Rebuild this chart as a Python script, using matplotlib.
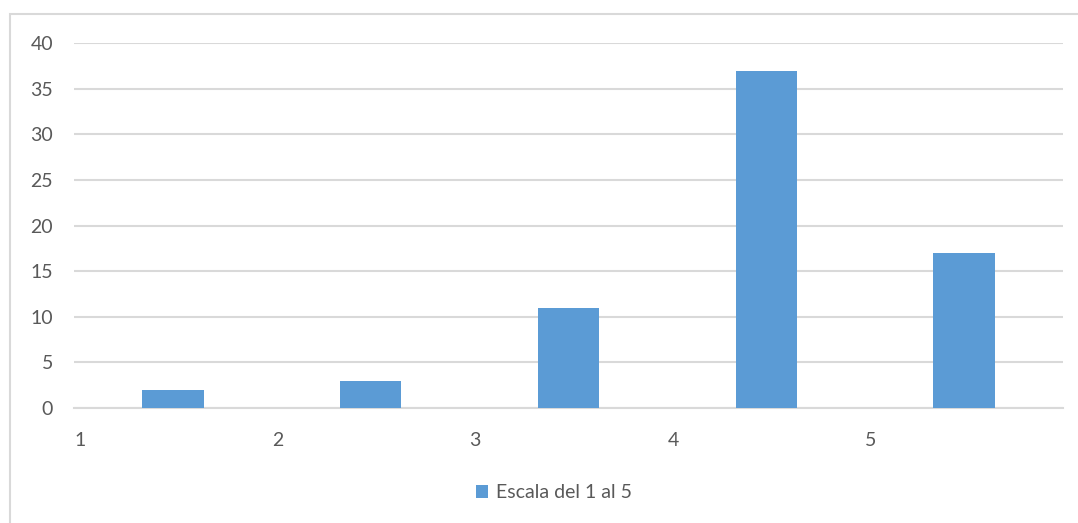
import matplotlib
matplotlib.use("Agg")
import matplotlib.pyplot as plt
from matplotlib.patches import Rectangle
import numpy as np

categories = ["1", "2", "3", "4", "5"]
values = [2, 3, 11, 37, 17]
series_name = "Escala del 1 al 5"
y_ticks = [0, 5, 10, 15, 20, 25, 30, 35, 40]

bar_color = "#5B9BD5"
grid_color = "#D9D9D9"
text_color = "#595959"

plt.rcParams["font.family"] = ["Lato", "DejaVu Sans"]

fig = plt.figure(figsize=(10.78, 5.23), dpi=100)
fig.patch.set_facecolor("white")

# chart area frame
fig.patches.append(Rectangle((10 / 1078, -0.05), 1.2, 1 - 14 / 523 + 0.05,
                             transform=fig.transFigure, fill=False,
                             edgecolor="#D9D9D9", linewidth=1.5, zorder=0))

ax = fig.add_axes([74 / 1078, 1 - 408 / 523, (1063 - 74) / 1078, (408 - 43.3) / 523])

x = np.arange(len(categories)) + 0.5
ax.bar(x, values, width=0.31, color=bar_color, zorder=3, label=series_name)

ax.set_xlim(0, len(categories))
ax.set_ylim(0, 40)
ax.set_yticks(y_ticks)
ax.set_yticklabels([str(t) for t in y_ticks], fontsize=14, color=text_color)
ax.set_xticks(np.arange(len(categories)))
ax.set_xticklabels(categories, fontsize=14, color=text_color, ha="left")

ax.tick_params(axis="y", length=0, pad=15)
ax.tick_params(axis="x", length=0, pad=17)
ax.grid(axis="y", color=grid_color, linewidth=1.5, zorder=0)
ax.set_axisbelow(True)
for s in ["top", "right", "left"]:
    ax.spines[s].set_visible(False)
ax.spines["bottom"].set_color(grid_color)
ax.spines["bottom"].set_linewidth(1.5)

leg = fig.legend(loc="center", bbox_to_anchor=(554 / 1078, 1 - 493 / 523),
                 frameon=False, fontsize=14, handlelength=0.62, handleheight=0.62,
                 handletextpad=0.4, labelcolor=text_color)

fig.savefig("out.png", dpi=100, facecolor="white")
